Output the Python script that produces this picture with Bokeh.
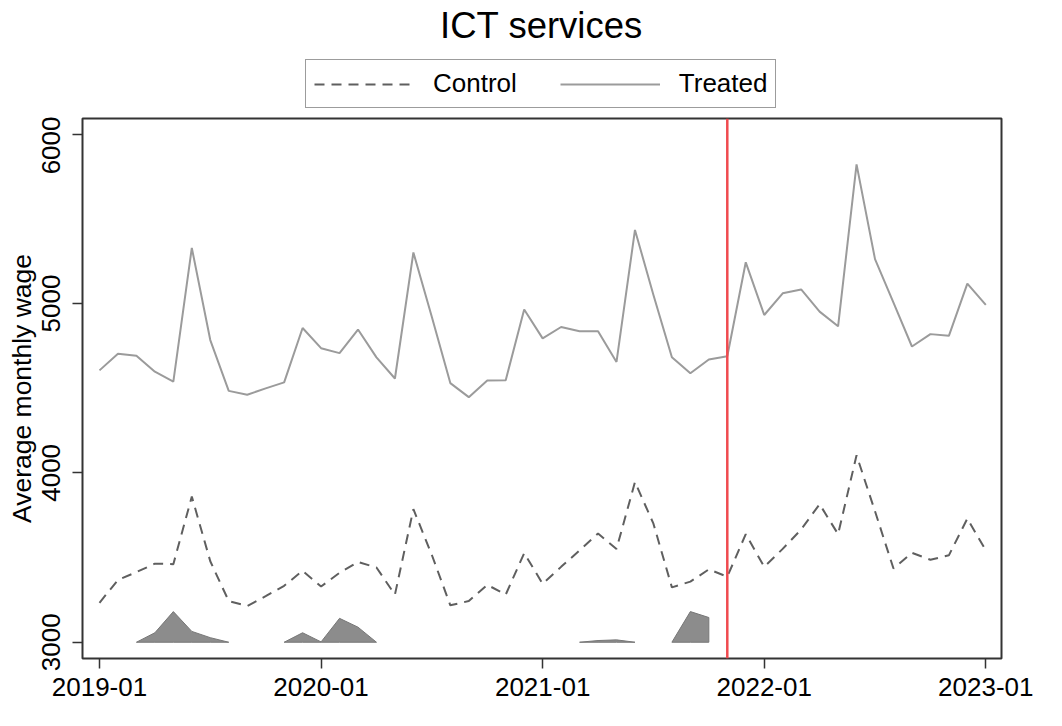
from bokeh.plotting import figure
from bokeh.layouts import column
from bokeh.models import FixedTicker, Span, Legend, LegendItem, ColumnDataSource, Label
from bokeh.embed import file_html
from bokeh.resources import INLINE

# ---------------- data ----------------
month_idx = list(range(49))          # 2019-01 ... 2023-01, monthly
tick_pos = [0, 12, 24, 36, 48]
tick_labels = ["2019-01", "2020-01", "2021-01", "2022-01", "2023-01"]
y_ticks = [3000, 4000, 5000, 6000]
treat_idx = 34                       # 2021-11

treated = [4605, 4703, 4692, 4597, 4539, 5328, 4784, 4484, 4461, 4499, 4534, 4855,
           4736, 4707, 4846, 4682, 4557, 5301, 4920, 4530, 4447, 4545, 4547, 4964,
           4794, 4861, 4836, 4836, 4655, 5434, 5050, 4682, 4588, 4669, 4688, 5243,
           4932, 5060, 5083, 4952, 4865, 5821, 5262, 5005, 4746, 4819, 4809, 5117,
           4992]
control = [3233, 3368, 3414, 3464, 3461, 3860, 3478, 3243, 3214, 3272, 3333, 3422,
           3329, 3410, 3474, 3441, 3281, 3786, 3515, 3218, 3243, 3339, 3281, 3526,
           3345, 3445, 3542, 3642, 3551, 3946, 3700, 3324, 3358, 3430, 3387, 3638,
           3445, 3551, 3666, 3815, 3638, 4104, 3773, 3435, 3528, 3487, 3513, 3730,
           3542]
shade = [None, None, 3000, 3056, 3181, 3064, 3027, 3000, None, None, 3000, 3056,
         3002, 3141, 3089, 3000, None, None, None, None, None, None, None, None,
         None, None, 3000, 3010, 3014, 3000, None, 3000, 3181, 3146, None, None,
         None, None, None, None, None, None, None, None, None, None, None, None,
         None]
shade_base = 3000
series_names = ["Control", "Treated"]
title_text = "ICT services"
y_label = "Average monthly wage"

FONT = "Liberation Sans"
W = 1046
HEAD_H = 116
MAIN_H = 594
BL, BR = 82, 45          # left / right borders shared by both figures

CTRL_STYLE = dict(line_color="#5f5f5f", line_width=2, line_dash="10 7")
TRT_STYLE = dict(line_color="#9b9b9b", line_width=2)

# ---------------- header (title + legend) ----------------
head = figure(width=W, height=HEAD_H, output_backend="svg", toolbar_location=None,
              title=None, x_range=(BL, W - BR), y_range=(0, HEAD_H),
              x_axis_type=None, y_axis_type=None,
              min_border_left=BL, min_border_right=BR, min_border_top=0,
              min_border_bottom=0, outline_line_color=None,
              border_fill_color="white", background_fill_color="white")
head.xgrid.grid_line_color = None
head.ygrid.grid_line_color = None
head.add_layout(Label(x=541, y=91, text=title_text, text_align="center",
                      text_baseline="alphabetic", text_font=FONT,
                      text_font_size="36.5px", text_color="black"))
# legend sample renderers (real series, drawn far outside this header's ranges)
d_c = head.line(month_idx, control, **CTRL_STYLE)
d_t = head.line(month_idx, treated, **TRT_STYLE)
legend = Legend(items=[LegendItem(label=series_names[0], renderers=[d_c]),
                       LegendItem(label=series_names[1], renderers=[d_t])],
                orientation="horizontal", location=(305 - BL, HEAD_H - 108),
                glyph_width=100, glyph_height=30, label_standoff=19, spacing=43,
                padding=8, margin=0, label_text_font=FONT,
                label_text_font_size="26px", label_text_color="black",
                border_line_color="#3a3a3a", border_line_width=1.5,
                background_fill_alpha=1)
head.add_layout(legend)

# ---------------- main plot ----------------
p = figure(width=W, height=MAIN_H, output_backend="svg", toolbar_location=None,
           x_range=(-0.92, 48.85), y_range=(2904, 6092),
           min_border_left=BL, min_border_right=BR, min_border_top=2,
           min_border_bottom=52, background_fill_color="white",
           border_fill_color="white")

# shaded area segments (contiguous non-missing runs)
xs_list, ys_list = [], []
cur_x, cur_y = [], []
for i, v in zip(month_idx, shade):
    if v is None:
        if cur_x:
            xs_list.append(cur_x + cur_x[::-1])
            ys_list.append(cur_y + [shade_base] * len(cur_x))
        cur_x, cur_y = [], []
    else:
        cur_x.append(i)
        cur_y.append(v)
if cur_x:
    xs_list.append(cur_x + cur_x[::-1])
    ys_list.append(cur_y + [shade_base] * len(cur_x))
p.patches(xs_list, ys_list, fill_color="#8c8c8c", line_color="#777777", line_width=1)

src = ColumnDataSource(dict(x=month_idx, t=treated, c=control))
p.line("x", "c", source=src, **CTRL_STYLE)
p.line("x", "t", source=src, **TRT_STYLE)

p.add_layout(Span(location=treat_idx, dimension="height", line_color="#f04a4f",
                  line_width=2.5))

p.xaxis.ticker = FixedTicker(ticks=tick_pos)
p.xaxis.major_label_overrides = {t: l for t, l in zip(tick_pos, tick_labels)}
p.yaxis.ticker = FixedTicker(ticks=y_ticks)
p.yaxis.major_label_orientation = "vertical"
p.yaxis.axis_label = y_label
for ax in (p.xaxis, p.yaxis):
    ax.axis_line_color = None
    ax.major_tick_line_color = "#333333"
    ax.major_tick_line_width = 1.5
    ax.major_tick_out = 10
    ax.major_tick_in = 0
    ax.minor_tick_line_color = None
    ax.major_label_text_font = FONT
    ax.major_label_text_font_size = "26px"
    ax.major_label_text_color = "black"
p.xaxis.major_label_standoff = 9
p.yaxis.major_label_standoff = 12
p.yaxis.axis_label_text_font = FONT
p.yaxis.axis_label_text_font_size = "26.5px"
p.yaxis.axis_label_text_font_style = "normal"
p.yaxis.axis_label_text_color = "black"
p.yaxis.axis_label_standoff = 3

p.xgrid.grid_line_color = None
p.ygrid.grid_line_color = None
p.outline_line_color = "#333333"
p.outline_line_width = 2

layout = column(head, p, spacing=0)
open("out.html", "w").write(file_html(layout, INLINE))
